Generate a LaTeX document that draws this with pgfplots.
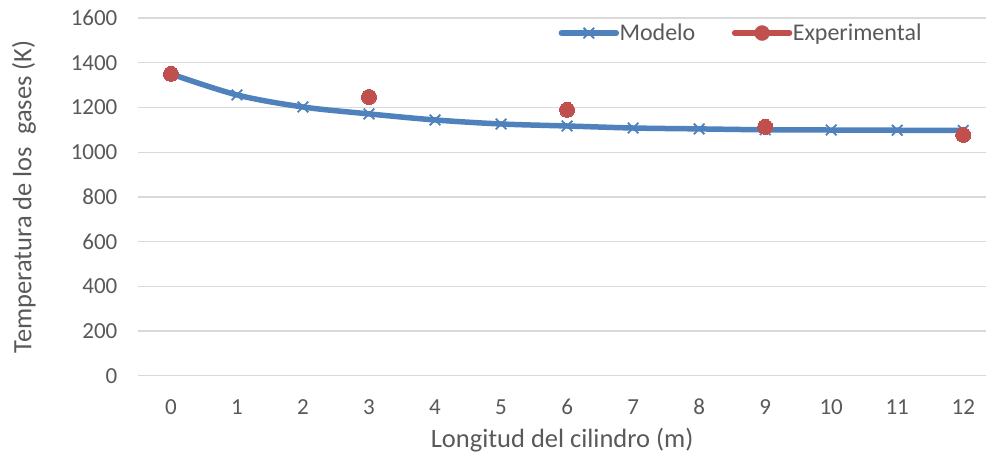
\documentclass[border=0pt]{standalone}
\usepackage{pgfplots}
\pgfplotsset{compat=1.18}
\usepackage{fontspec}
\setmainfont{Carlito}
\definecolor{serA}{HTML}{4F81BD}
\definecolor{serB}{HTML}{C0504D}
\definecolor{txt}{HTML}{595959}
\definecolor{grd}{HTML}{D9D9D9}

\begin{document}
\begin{tikzpicture}
\begin{axis}[
    scale only axis,
    width=849pt, height=358pt,
    xmin=-0.5, xmax=12.35,
    ymin=0, ymax=1600,
    xtick={0,...,12},
    ytick={0,200,...,1600},
    axis line style={draw=none},
    ymajorgrids, grid style={grd, line width=1.3pt},
    major tick length=0pt,
    tick label style={font=\fontsize{23}{26}\selectfont, text=txt},
    /pgf/number format/assume math mode=true,
    /pgf/number format/1000 sep={},
    xticklabel style={yshift=-20pt},
    yticklabel style={xshift=-17pt},
    xlabel={Longitud del cilindro (m)},
    ylabel={Temperatura de los\ \ gases (K)},
    label style={font=\fontsize{26.5}{30}\selectfont, text=txt},
    xlabel style={yshift=-6pt},
    ylabel style={yshift=28pt},
    legend style={draw=none, fill=none, at={(0.71,0.995)}, anchor=north,
        font=\fontsize{24}{28}\selectfont, text=txt, legend columns=2,
        nodes={inner xsep=0.5pt},
        /tikz/every even column/.append style={column sep=36pt}},
]
\addplot[serA, line width=5.5pt, smooth, tension=0.55, mark=x,
    mark options={line width=1.8pt, solid}, mark size=7.5pt,
    legend image code/.code={
        \draw[serA, line width=5.5pt, line cap=round] (0pt,0pt) -- (55pt,0pt);
        \draw[serA, line width=1.8pt] plot[mark=x, mark size=7.5pt] coordinates {(27.5pt,0pt)};}]
coordinates {
    (0,1350) (1,1256) (2,1202) (3,1171) (4,1144) (5,1126) (6,1117)
    (7,1108) (8,1104) (9,1100) (10,1099) (11,1098) (12,1097)
};
\addlegendentry{Modelo}
\addplot[serB, only marks, mark=*, mark size=7.5pt,
    mark options={fill=serB, draw=serB, line width=0pt},
    legend image code/.code={
        \draw[serB, line width=5.5pt, line cap=round] (0pt,0pt) -- (55pt,0pt);
        \fill[serB] (27.5pt,0pt) circle (7.5pt);}]
coordinates {
    (0,1350) (3,1247) (6,1189) (9,1113) (12,1077)
};
\addlegendentry{Experimental}
\end{axis}
\path (current axis.south west) ++(-138pt,-82pt) rectangle ++(987pt,458pt);
\end{tikzpicture}
\end{document}
